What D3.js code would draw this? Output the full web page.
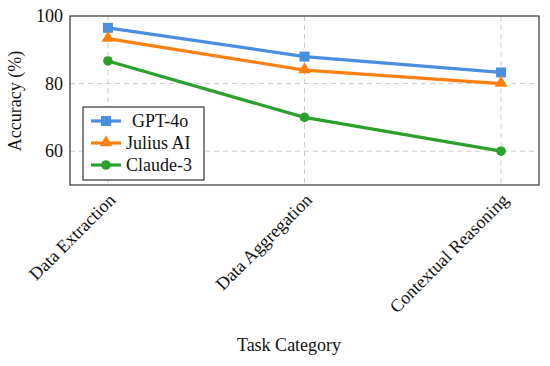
<!DOCTYPE html>
<html lang="en">
<head>
<meta charset="utf-8">
<title>Accuracy by Task Category</title>
<style>
  body { margin: 0; background: #fff; }
  svg text { font-family: "Liberation Serif", "DejaVu Serif", serif; fill: #111; }
</style>
</head>
<body>
<div id="chart"></div>
<script src="https://d3js.org/d3.v7.min.js"></script>
<script>
const categories = ["Data Extraction", "Data Aggregation", "Contextual Reasoning"];
const seriesNames = ["GPT-4o", "Julius AI", "Claude-3"];
const gpt4o = [96.5, 88, 83.3];
const juliusAI = [93.3, 84, 80];
const claude3 = [86.7, 70, 60];
const yTicks = [60, 80, 100];

const series = [
  { name: seriesNames[0], values: gpt4o, color: "#4a8ee2", mark: "square" },
  { name: seriesNames[1], values: juliusAI, color: "#ff7f0e", mark: "triangle" },
  { name: seriesNames[2], values: claude3, color: "#2ca02c", mark: "circle" }
];

const width = 550, height = 366;
const plot = { left: 70, right: 539, top: 16, bottom: 185 };
const fontSize = "18px";

const svg = d3.select("#chart").append("svg")
    .attr("width", width)
    .attr("height", height);

const x = d3.scaleLinear()
    .domain([-0.193, categories.length - 1 + 0.193])
    .range([plot.left, plot.right]);

const y = d3.scaleLinear()
    .domain([50, 100])
    .range([plot.bottom, plot.top]);

// grid
const grid = svg.append("g").attr("stroke", "#cccccc").attr("stroke-dasharray", "5,4").attr("stroke-width", 1);
grid.selectAll(".gy").data(yTicks.filter(t => t < 100)).enter().append("line")
    .attr("x1", plot.left).attr("x2", plot.right)
    .attr("y1", d => y(d)).attr("y2", d => y(d));
grid.selectAll(".gx").data(categories).enter().append("line")
    .attr("x1", (d, i) => x(i)).attr("x2", (d, i) => x(i))
    .attr("y1", plot.top).attr("y2", plot.bottom);

// axes (labels only, box drawn below)
const leftAxis = d3.axisLeft(y).tickValues(yTicks).tickSize(0).tickPadding(7);
svg.append("g")
    .attr("transform", "translate(" + plot.left + ",0)")
    .call(leftAxis)
    .call(g => g.select(".domain").remove())
    .selectAll("text")
      .style("font-size", fontSize);

const bottomAxis = d3.axisBottom(x).tickValues(d3.range(categories.length))
    .tickFormat(i => categories[i]).tickSize(0);
svg.append("g")
    .attr("transform", "translate(0," + plot.bottom + ")")
    .call(bottomAxis)
    .call(g => g.select(".domain").remove())
    .selectAll("text")
      .style("font-size", fontSize)
      .style("text-anchor", "end")
      .attr("dy", 0)
      .attr("transform", "translate(6,14) rotate(-45)");

svg.append("rect")
    .attr("x", plot.left).attr("y", plot.top)
    .attr("width", plot.right - plot.left).attr("height", plot.bottom - plot.top)
    .attr("fill", "none").attr("stroke", "#333").attr("stroke-width", 1.2);

// lines
const line = d3.line().x((d, i) => x(i)).y(d => y(d));

function drawMark(g, type, color, cx, cy) {
  if (type === "square") {
    g.append("rect").attr("x", cx - 5).attr("y", cy - 5).attr("width", 10).attr("height", 10).attr("fill", color);
  } else if (type === "triangle") {
    g.append("path").attr("d", d3.symbol().type(d3.symbolTriangle).size(70)()).attr("transform", "translate(" + cx + "," + (cy - 0.5) + ")").attr("fill", color);
  } else {
    g.append("circle").attr("cx", cx).attr("cy", cy).attr("r", 4.8).attr("fill", color);
  }
}

series.forEach(s => {
  svg.append("path")
      .datum(s.values)
      .attr("d", line)
      .attr("fill", "none")
      .attr("stroke", s.color)
      .attr("stroke-width", 3.2)
      .attr("stroke-linejoin", "round");
  const mg = svg.append("g");
  s.values.forEach((v, i) => drawMark(mg, s.mark, s.color, x(i), y(v)));
});

// legend
const legend = svg.append("g");
legend.append("rect")
    .attr("x", 83).attr("y", 107).attr("width", 121).attr("height", 73)
    .attr("fill", "#fff").attr("stroke", "#333").attr("stroke-width", 1.2);
series.forEach((s, i) => {
  const ly = 121 + i * 22;
  legend.append("line").attr("x1", 91).attr("x2", 121).attr("y1", ly).attr("y2", ly)
      .attr("stroke", s.color).attr("stroke-width", 3.2);
  drawMark(legend, s.mark, s.color, 106, ly);
  legend.append("text").attr("x", i === 0 ? 132 : 126).attr("y", ly + 5.5)
      .style("font-size", fontSize).text(s.name);
});

// axis titles
svg.append("text")
    .attr("x", 289).attr("y", 351)
    .attr("text-anchor", "middle")
    .style("font-size", fontSize)
    .text("Task Category");

svg.append("text")
    .attr("transform", "translate(21,101) rotate(-90)")
    .attr("text-anchor", "middle")
    .style("font-size", fontSize)
    .text("Accuracy (%)");
</script>
</body>
</html>
